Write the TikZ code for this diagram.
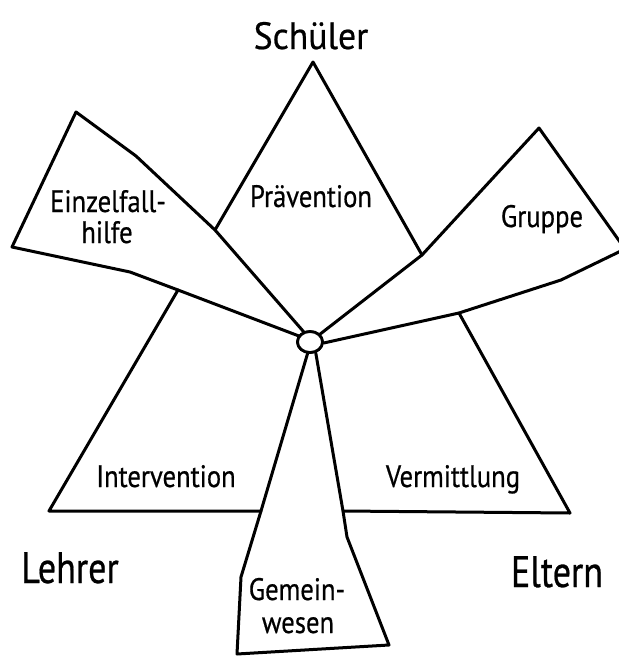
\documentclass[tikz,border=0pt]{standalone}
\usepackage{fontspec}
\setmainfont{PT Sans}
\newfontfamily\labelfont{PT Sans}[FakeBold=0.6]
\usepackage{graphicx}
\usetikzlibrary{shapes.geometric}
% horizontally condensed text
\newcommand{\cond}[2]{\scalebox{#1}[1]{#2}}
\begin{document}
\begin{tikzpicture}[x=1pt,y=-1pt,
  edge/.style={line width=3pt, line join=round, line cap=round},
  hubstyle/.style={ellipse, draw, line width=2.8pt, fill=white, minimum width=25pt, minimum height=21pt, inner sep=0pt},
  role/.style={font=\labelfont\fontsize{44}{46}\selectfont, inner sep=0pt, anchor=base},
  field/.style={font=\labelfont\fontsize{31}{33}\selectfont, inner sep=0pt, anchor=base},
]
\useasboundingbox (0,0) rectangle (619,657);

% hub where all shapes meet
\node[hubstyle] (hub) at (310,342) {};

% corner points
\coordinate (sApex) at (313,62);
\coordinate (pL) at (215,230);
\coordinate (pR) at (422,255);
\coordinate (eTop) at (76,112);
\coordinate (eBend) at (136,156);
\coordinate (eLeft) at (12,247);
\coordinate (eLow1) at (130,272);
\coordinate (eLow2) at (178,290);
\coordinate (gTop) at (539,128);
\coordinate (gRight) at (625,249);
\coordinate (gLow1) at (561,280);
\coordinate (gLow2) at (459,313);
\coordinate (iLeft) at (49,511);
\coordinate (iRight) at (261,511);
\coordinate (vRight) at (570,513);
\coordinate (vLeft) at (343,511);
\coordinate (wL1) at (241,577);
\coordinate (wL2) at (237,654);
\coordinate (wR2) at (389,645);
\coordinate (wR1) at (347,537);

% Prävention (top triangle)
\draw[edge] (pL) -- (sApex) -- (pR);
% Intervention (lower left triangle)
\draw[edge] (eLow2) -- (iLeft) -- (iRight);
% Vermittlung (lower right triangle)
\draw[edge] (gLow2) -- (vRight) -- (vLeft);
% Einzelfallhilfe wedge
\draw[edge] (hub.122) -- (pL) -- (eBend) -- (eTop) -- (eLeft) -- (eLow1) -- (eLow2) -- (hub.152);
% Gruppe wedge
\draw[edge] (hub.38) -- (pR) -- (gTop) -- (gRight) -- (gLow1) -- (gLow2) -- (hub.-4);
% Gemeinwesen wedge
\draw[edge] (hub.-102) -- (iRight) -- (wL1) -- (wL2) -- (wR2) -- (wR1) -- (vLeft) -- (hub.-62);

% redraw the hub on top
\node[hubstyle] at (hub) {};

% labels
\node[role, font=\labelfont\fontsize{38}{40}\selectfont] (schueler) at (311,49) {\cond{0.94}{Schüler}};
\node[role] (lehrer) at (70,583) {\cond{0.82}{Lehrer}};
\node[role] (eltern) at (557,587) {\cond{0.82}{Eltern}};

\node[field] (praev) at (311,207) {\cond{0.86}{Prävention}};
\node[field] (einz1) at (108,212) {\cond{0.86}{Einzelfall-}};
\node[field] (einz2) at (107,243) {\cond{0.86}{hilfe}};
\node[field] (gruppe) at (542,227) {\cond{0.86}{Gruppe}};
\node[field] (interv) at (166,487) {\cond{0.86}{Intervention}};
\node[field] (vermitt) at (453,487) {\cond{0.86}{Vermittlung}};
\node[field] (gem1) at (297,600) {\cond{0.86}{Gemein-}};
\node[field] (gem2) at (298,633) {\cond{0.86}{wesen}};
\end{tikzpicture}
\end{document}
